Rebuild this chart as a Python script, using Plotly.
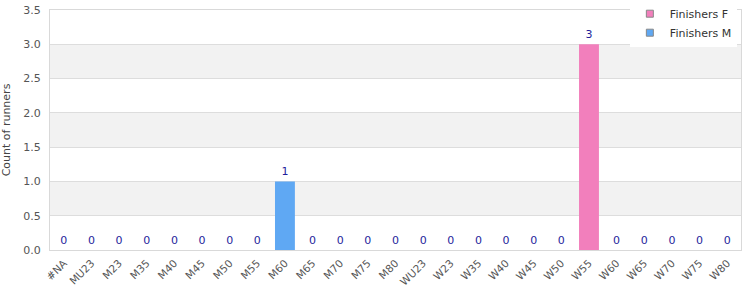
import plotly.graph_objects as go

categories = ["#NA", "MU23", "M23", "M35", "M40", "M45", "M50", "M55", "M60", "M65",
              "M70", "M75", "M80", "WU23", "W23", "W35", "W40", "W45", "W50", "W55",
              "W60", "W65", "W70", "W75", "W80"]
finishers_f = [0, 0, 0, 0, 0, 0, 0, 0, 0, 0, 0, 0, 0, 0, 0, 0, 0, 0, 0, 3, 0, 0, 0, 0, 0]
finishers_m = [0, 0, 0, 0, 0, 0, 0, 0, 1, 0, 0, 0, 0, 0, 0, 0, 0, 0, 0, 0, 0, 0, 0, 0, 0]
totals = [f + m for f, m in zip(finishers_f, finishers_m)]

PINK = "#f27fbc"
BLUE = "#5fa8f3"
FONT = "DejaVu Sans"

fig = go.Figure()
fig.add_trace(go.Bar(x=categories, y=finishers_f, name="Finishers F",
                     marker=dict(color=PINK, line=dict(width=0)), showlegend=False))
fig.add_trace(go.Bar(x=categories, y=finishers_m, name="Finishers M",
                     marker=dict(color=BLUE, line=dict(width=0)), showlegend=False))
# total labels
fig.add_trace(go.Bar(x=categories, y=totals, text=[str(t) for t in totals],
                     textposition="outside", cliponaxis=False, showlegend=False,
                     marker=dict(color="rgba(0,0,0,0)", line=dict(width=0)),
                     outsidetextfont=dict(family=FONT, size=11, color="#1f1f9c"),
                     hoverinfo="skip"))
# legend-only entries
fig.add_trace(go.Scatter(x=[categories[0]], y=[None], mode="markers", name="Finishers F",
                         marker=dict(symbol="square", size=7, color=PINK,
                                     line=dict(color="#888", width=1))))
fig.add_trace(go.Scatter(x=[categories[0]], y=[None], mode="markers", name="Finishers M",
                         marker=dict(symbol="square", size=7, color=BLUE,
                                     line=dict(color="#888", width=1))))

shapes = []
for lo in [0.5, 1.5, 2.5]:
    shapes.append(dict(type="rect", xref="paper", yref="y", x0=0, x1=1, y0=lo, y1=lo + 0.5,
                       fillcolor="#f2f2f2", line=dict(width=0), layer="below"))

fig.update_layout(
    width=750, height=300,
    margin=dict(l=50, r=9, t=10, b=50, autoexpand=False),
    barmode="overlay", bargap=0.28,
    plot_bgcolor="white", paper_bgcolor="white",
    font=dict(family=FONT, size=11, color="#444"),
    shapes=shapes,
    legend=dict(x=0.994, xanchor="right", y=1.045, yanchor="top",
                bgcolor="white", borderwidth=0, font=dict(size=11, color="#333"),
                tracegroupgap=0),
    xaxis=dict(type="category", categoryorder="array", categoryarray=categories,
               range=[-0.5, len(categories) - 0.5], automargin=False,
               tickangle=-45, tickfont=dict(size=10.5, color="#555"), ticklabelstandoff=2,
               showline=True, linecolor="#d9d9d9", mirror=True, ticks="", showgrid=False),
    yaxis=dict(range=[0, 3.5], dtick=0.5, tickformat=".1f", showline=True, linecolor="#d9d9d9",
               mirror=True, gridcolor="#dddddd", zeroline=False, automargin=True,
               ticklabelstandoff=6,
               title=dict(text="Count of runners", font=dict(size=11, color="#444"), standoff=10),
               tickfont=dict(size=11, color="#555")),
)

fig.write_html("out.html")
